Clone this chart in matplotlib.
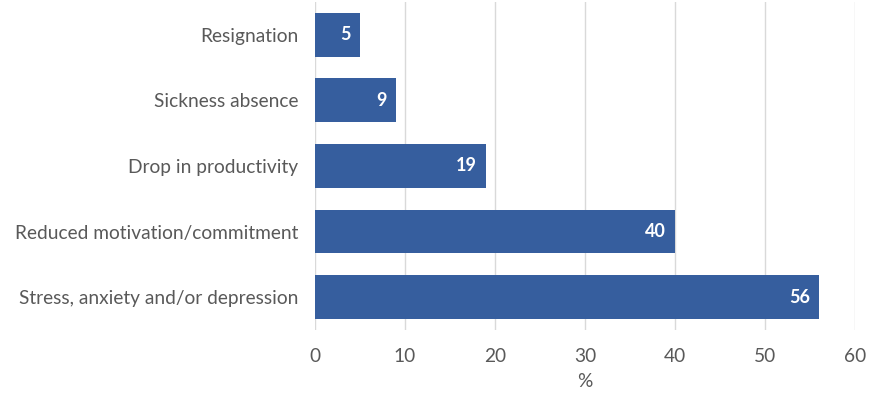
import matplotlib.pyplot as plt

categories = ['Stress, anxiety and/or depression', 'Reduced motivation/commitment',
              'Drop in productivity', 'Sickness absence', 'Resignation']
values = [56, 40, 19, 9, 5]
xticks = [0, 10, 20, 30, 40, 50, 60]

plt.rcParams['font.family'] = ['Lato', 'DejaVu Sans']

fig = plt.figure(figsize=(8.73, 3.96), dpi=100)
ax = fig.add_axes([0.361, 0.167, 0.618, 0.828])

bars = ax.barh(range(len(categories)), values, height=0.67, color='#365E9E', zorder=3)
for b, v in zip(bars, values):
    ax.text(b.get_width() - 1, b.get_y() + b.get_height() / 2, str(v),
            ha='right', va='center', color='white', fontsize=13, fontweight='bold', zorder=4)

ax.set_xlim(0, 60)
ax.set_ylim(-0.5, len(categories) - 0.5)
ax.set_xticks(xticks)
ax.set_yticks(range(len(categories)))
ax.set_yticklabels(categories)
ax.grid(axis='x', color='#d9d9d9', lw=1, zorder=0)
for s in ax.spines.values():
    s.set_visible(False)
ax.tick_params(axis='y', length=0, pad=18, labelsize=13.8, labelcolor='#595959')
ax.tick_params(axis='x', length=0, pad=13, labelsize=13.8, labelcolor='#595959')
ax.set_xlabel('%', fontsize=13.8, color='#595959', labelpad=6)
for lab in ax.get_yticklabels():
    lab.set_x(-0.00)
ax.tick_params(axis='y', pad=12)

fig.savefig('out.png', dpi=100)
